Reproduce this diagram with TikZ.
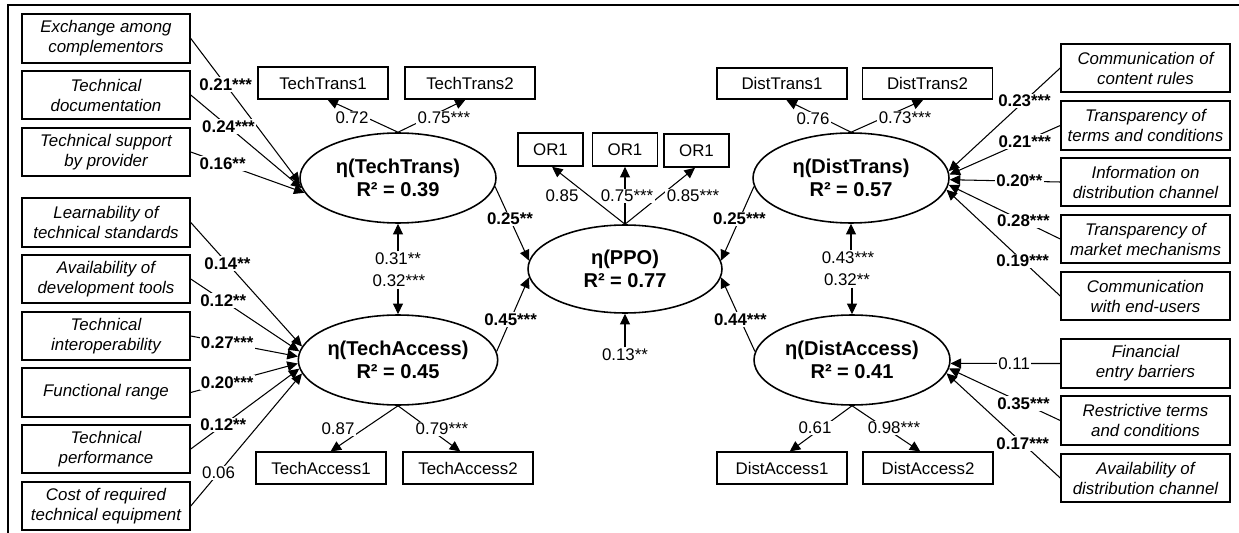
\documentclass[tikz,border=0pt]{standalone}
\usepackage{fontspec}
\setmainfont{Liberation Sans}
\usetikzlibrary{arrows.meta,shapes.geometric}
\begin{document}
\begin{tikzpicture}[x=0.02cm,y=-0.02cm]
\tikzset{
 ind/.style={draw,line width=0.9pt,minimum width=3.36cm,minimum height=0.97cm,inner sep=0pt,align=center,font=\fontsize{9.6}{11.4}\selectfont\itshape},
 indr/.style={ind,minimum width=3.38cm},
 obs/.style={draw,line width=0.9pt,minimum width=2.6cm,minimum height=0.63cm,inner sep=0pt,font=\fontsize{9.6}{11.4}\selectfont},
 orb/.style={obs,minimum width=1.3cm,minimum height=0.66cm},
 lat/.style={ellipse,draw,line width=0.9pt,minimum width=3.92cm,minimum height=1.8cm,inner sep=0pt,align=center,font=\fontsize{11.4}{12.8}\selectfont\bfseries},
 lab/.style={fill=white,inner sep=0.8pt,font=\fontsize{9.6}{11}\selectfont},
 blab/.style={lab,font=\fontsize{9.6}{11}\selectfont\bfseries},
 arr/.style={line width=0.6pt,-{Triangle[length=6pt,width=5.6pt]}},
}
\useasboundingbox (0,0) rectangle (1239,533);
\draw[line width=1.2pt] (8,533) -- (8,5) -- (1239,5);

% left formative indicators
\node[ind] (L1) at (106,38.5) {Exchange among\\complementors};
\node[ind] (L2) at (106,95) {Technical\\documentation};
\node[ind] (L3) at (106,152) {Technical support\\by provider};
\node[ind] (L4) at (106,222.5) {Learnability of\\technical standards};
\node[ind] (L5) at (106,279) {Availability of\\development tools};
\node[ind] (L6) at (106,336) {Technical\\interoperability};
\node[ind] (L7) at (106,392.5) {Functional range};
\node[ind] (L8) at (106,449) {Technical\\performance};
\node[ind] (L9) at (106,506) {Cost of required\\technical equipment};

% right formative indicators
\node[indr] (R1) at (1145.5,68) {Communication of\\content rules};
\node[indr] (R2) at (1145.5,125.5) {Transparency of\\terms and conditions};
\node[indr] (R3) at (1145.5,182) {Information on\\distribution channel};
\node[indr] (R4) at (1145.5,239) {Transparency of\\market mechanisms};
\node[indr] (R5) at (1145.5,296) {Communication\\with end-users};
\node[indr] (R6) at (1145.5,363.5) {Financial\\entry barriers};
\node[indr] (R7) at (1145.5,420.5) {Restrictive terms\\and conditions};
\node[indr] (R8) at (1145.5,478) {Availability of\\distribution channel};

% reflective indicators
\node[obs] (TT1) at (323,83) {TechTrans1};
\node[obs] (TT2) at (470,83) {TechTrans2};
\node[obs] (DT1) at (782,83.5) {DistTrans1};
\node[obs] (DT2) at (927.5,83.5) {DistTrans2};
\node[orb] (O1) at (550.5,149.5) {OR1};
\node[orb] (O2) at (625,149.5) {OR1};
\node[orb] (O3) at (696.5,150.5) {OR1};
\node[obs] (TA1) at (321,468) {TechAccess1};
\node[obs] (TA2) at (468,468) {TechAccess2};
\node[obs] (DA1) at (782,468) {DistAccess1};
\node[obs] (DA2) at (928,468) {DistAccess2};

% latent variables
\node[lat] (TT) at (398,178) {η(TechTrans)\\R² = 0.39};
\node[lat] (TA) at (398,360) {η(TechAccess)\\R² = 0.45};
\node[lat,minimum width=3.88cm,minimum height=1.76cm] (PPO) at (625,269) {η(PPO)\\R² = 0.77};
\node[lat] (DT) at (851,178) {η(DistTrans)\\R² = 0.57};
\node[lat] (DA) at (852,360) {η(DistAccess)\\R² = 0.41};

% formative paths, left
\draw[arr] (L1.east) -- node[blab,pos=0.32]{0.21***} (TT.183);
\draw[arr] (L2.east) -- node[blab,pos=0.34]{0.24***} (TT.186);
\draw[arr] (L3.east) -- node[blab,pos=0.28]{0.16**} (TT.189);
\draw[arr] (L4.east) -- node[blab,pos=0.33]{0.14**} (TA.172);
\draw[arr] (L5.east) -- node[blab,pos=0.30]{0.12**} (TA.175);
\draw[arr] (L6.east) -- node[blab,pos=0.34]{0.27***} (TA.178);
\draw[arr] (L7.east) -- node[blab,pos=0.34]{0.20***} (TA.182);
\draw[arr] (L8.east) -- node[blab,pos=0.30]{0.12**} (TA.185);
\draw[arr] (L9.east) -- node[lab,pos=0.25]{0.06} (TA.188);

% formative paths, right
\draw[arr] (R1.west) -- node[blab,pos=0.32]{0.23***} (DT.4);
\draw[arr] (R2.west) -- node[blab,pos=0.32]{0.21***} (DT.2);
\draw[arr] (R3.west) -- node[blab,pos=0.37]{0.20**} (DT.-1);
\draw[arr] (R4.west) -- node[blab,pos=0.33]{0.28***} (DT.-4);
\draw[arr] (R5.west) -- node[blab,pos=0.33]{0.19***} (DT.-7);
\draw[arr] (R6.west) -- node[lab,pos=0.42]{0.11} (DA.-2);
\draw[arr] (R7.west) -- node[blab,pos=0.33]{0.35***} (DA.-5);
\draw[arr] (R8.west) -- node[blab,pos=0.33]{0.17***} (DA.-8);

% structural paths
\draw[arr] (TT.-5) -- node[blab,pos=0.44]{0.25**} (PPO.175);
\draw[arr] (TA.5) -- node[blab,pos=0.43]{0.45***} (PPO.185);
\draw[arr] (DT.185) -- node[blab,pos=0.44]{0.25***} (PPO.5);
\draw[arr] (DA.175) -- node[blab,pos=0.43]{0.44***} (PPO.-5);

% correlations between constructs
\node[lab] (n31) at (398,259) {0.31**};
\node[lab] (n32) at (399,281) {0.32***};
\draw[arr] (n31.north -| TT.south) -- (TT.south);
\draw[arr] (n32.south -| TA.north) -- (TA.north);
\node[lab] (n43) at (848,258) {0.43***};
\node[lab] (n32b) at (847,280) {0.32**};
\draw[arr] (n43.north -| DT.south) -- (DT.south);
\draw[arr] (n32b.south -| DA.north) -- (DA.north);
\node[lab] (n13) at (625,355) {0.13**};
\draw[arr] (n13.north -| PPO.south) -- (PPO.south);

% reflective loadings
\draw[arr] (TT.north) -- (TT1.-75);
\draw[arr] (TT.north) -- (TT2.-105);
\node[lab] at (352,118) {0.72};
\node[lab] at (444,118) {0.75***};
\draw[arr] (DT.north) -- (DT1.-75);
\draw[arr] (DT.north) -- (DT2.-105);
\node[lab] at (813,119) {0.76};
\node[lab] at (905,118) {0.73***};
\draw[arr] (PPO.north) -- (O1.-85);
\draw[arr] (PPO.north) -- (O2.south);
\draw[arr] (PPO.north) -- (O3.-95);
\node[lab] at (562,196) {0.85};
\node[lab] at (627,196) {0.75***};
\node[lab] at (693,196) {0.85***};
\draw[arr] (TA.south) -- (TA1.60);
\draw[arr] (TA.south) -- (TA2.115);
\node[lab] at (338,429) {0.87};
\node[lab] at (442,429) {0.79***};
\draw[arr] (DA.south) -- (DA1.65);
\draw[arr] (DA.south) -- (DA2.115);
\node[lab] at (815,428) {0.61};
\node[lab] at (894,428) {0.98***};
\end{tikzpicture}
\end{document}
